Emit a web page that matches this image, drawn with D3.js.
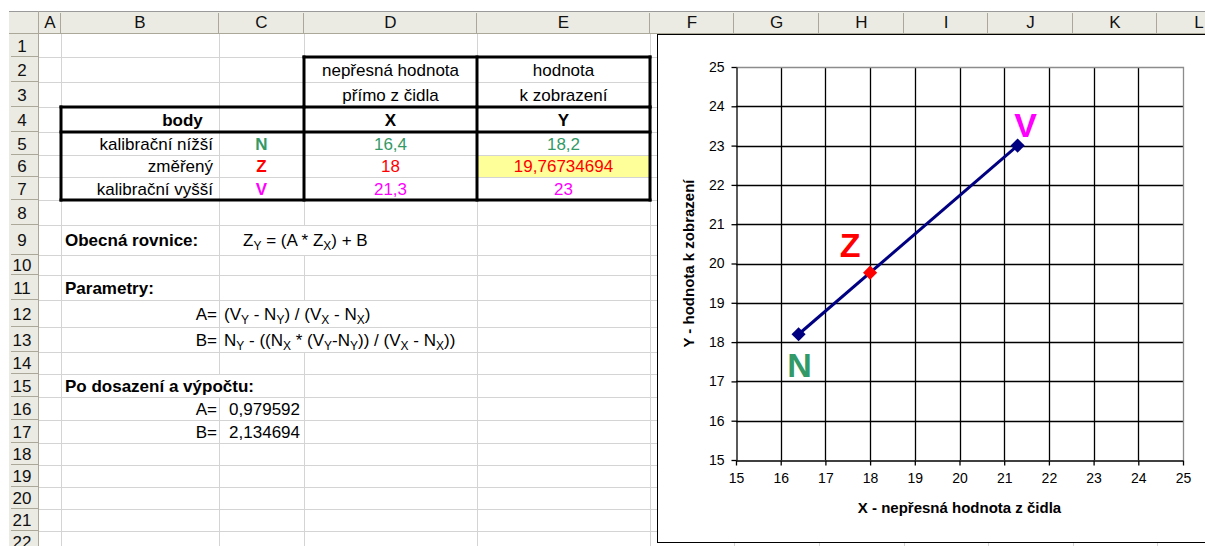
<!DOCTYPE html>
<html>
<head>
<meta charset="utf-8">
<script src="https://cdn.jsdelivr.net/npm/d3@7"></script>
<style>
html,body{margin:0;padding:0;background:#fff;}
svg{display:block;font-family:Arial,"Liberation Sans",sans-serif;}
</style>
</head>
<body>
<svg id="c" width="1205" height="546"></svg>
<script>
// ---------- DATA ----------
const pointNames = ["N", "Z", "V"];
const pointRowLabels = ["kalibrační nížší", "změřený", "kalibrační vyšší"];
const xValues = [16.4, 18, 21.3];
const yValues = [18.2, 19.76734694, 23];
const calibrationNames = ["N", "V"];
const measuredNames = ["Z"];
const paramA = 0.979592;
const paramB = 2.134694;
const xTicks = [15, 16, 17, 18, 19, 20, 21, 22, 23, 24, 25];
const yTicks = [15, 16, 17, 18, 19, 20, 21, 22, 23, 24, 25];
const colNames = ["", "A", "B", "C", "D", "E", "F", "G", "H", "I", "J", "K", "L"];
const rowCount = 22;

// ---------- LAYOUT / STYLE ----------
const colEdges = [9, 39, 61, 219, 304, 477, 650, 734, 819, 904, 988, 1073, 1157, 1241];
const rowEdges = [11, 34, 57, 82, 107, 132, 155, 177, 200, 225, 255, 275, 300, 327, 352, 374, 397, 420, 443, 465, 487, 509, 531, 553];
const colors = {N: "#339966", Z: "#ff0000", V: "#ff00ff"};
const FS = 17;
const svg = d3.select("#c");

const gGrid = svg.append("g");
const gText = svg.append("g");
const gBorder = svg.append("g");
const gHead = svg.append("g");

// cell fills
gGrid.append("rect").attr("x", colEdges[5]).attr("y", rowEdges[6])
  .attr("width", colEdges[6] - colEdges[5]).attr("height", rowEdges[7] - rowEdges[6])
  .attr("fill", "#ffff99");

// gridline suppression where text overflows: [colEdgeIndex, row]
const noVLine = [[4, 9], [4, 12], [4, 13], [3, 15]];
const gridColor = "#d4d4d4";
for (let ci = 2; ci < colEdges.length; ci++) {
  for (let r = 1; r <= rowCount; r++) {
    if (noVLine.some(d => d[0] === ci && d[1] === r)) continue;
    gGrid.append("line").attr("x1", colEdges[ci] + 0.5).attr("x2", colEdges[ci] + 0.5)
      .attr("y1", rowEdges[r]).attr("y2", rowEdges[r + 1])
      .attr("stroke", gridColor).attr("stroke-width", 1);
  }
}
for (let r = 2; r <= rowCount; r++) {
  gGrid.append("line").attr("x1", colEdges[1]).attr("x2", 1205)
    .attr("y1", rowEdges[r] + 0.5).attr("y2", rowEdges[r] + 0.5)
    .attr("stroke", gridColor).attr("stroke-width", 1);
}

// headers
const headFill = "#ecebe3", headLine = "#aca899";
gHead.append("rect").attr("x", colEdges[0]).attr("y", rowEdges[0]).attr("width", 1205 - colEdges[0])
  .attr("height", rowEdges[1] - rowEdges[0]).attr("fill", headFill);
gHead.append("rect").attr("x", colEdges[0]).attr("y", rowEdges[0]).attr("width", colEdges[1] - colEdges[0])
  .attr("height", 546 - rowEdges[0]).attr("fill", headFill);
gHead.append("line").attr("x1", colEdges[0]).attr("x2", 1205).attr("y1", rowEdges[0] + 0.5).attr("y2", rowEdges[0] + 0.5)
  .attr("stroke", "#9a9a9a");
gHead.append("line").attr("x1", colEdges[0]).attr("x2", 1205).attr("y1", rowEdges[1] - 0.5).attr("y2", rowEdges[1] - 0.5)
  .attr("stroke", headLine);
gHead.append("line").attr("x1", colEdges[1] - 0.5).attr("x2", colEdges[1] - 0.5).attr("y1", rowEdges[0]).attr("y2", 546)
  .attr("stroke", headLine);
for (let ci = 2; ci < colEdges.length; ci++) {
  gHead.append("line").attr("x1", colEdges[ci] - 0.5).attr("x2", colEdges[ci] - 0.5)
    .attr("y1", rowEdges[0] + 2).attr("y2", rowEdges[1] - 1).attr("stroke", headLine);
}
for (let r = 2; r <= rowCount; r++) {
  gHead.append("line").attr("x1", colEdges[0] + 2).attr("x2", colEdges[1] - 1)
    .attr("y1", rowEdges[r] - 0.5).attr("y2", rowEdges[r] - 0.5).attr("stroke", headLine);
}
colNames.forEach((n, i) => {
  if (!n) return;
  gHead.append("text").attr("x", (colEdges[i] + colEdges[i + 1]) / 2).attr("y", rowEdges[1] - 6)
    .attr("text-anchor", "middle").attr("font-size", FS).attr("fill", "#111").text(n);
});
d3.range(1, rowCount + 1).forEach(r => {
  gHead.append("text").attr("x", 22).attr("y", (rowEdges[r] + rowEdges[r + 1]) / 2 + 6)
    .attr("text-anchor", "middle").attr("font-size", FS).attr("fill", "#111").text(r);
});

// cell text helper
function cell(col, row, parts, opt = {}) {
  const align = opt.align || "left";
  let x;
  if (align === "left") x = colEdges[col] + (opt.pad != null ? opt.pad : 4);
  else if (align === "right") x = colEdges[(opt.colEnd || col) + 1] - (opt.pad != null ? opt.pad : 4);
  else x = (colEdges[col] + colEdges[(opt.colEnd || col) + 1]) / 2;
  const y = (rowEdges[row] + rowEdges[row + 1]) / 2 + 6;
  const t = gText.append("text").attr("x", x).attr("y", y)
    .attr("text-anchor", align === "left" ? "start" : align === "right" ? "end" : "middle")
    .attr("font-size", FS).attr("font-weight", opt.bold ? "bold" : "normal")
    .attr("fill", opt.color || "#000");
  if (typeof parts === "string") { t.text(parts); return t; }
  parts.forEach(p => {
    if (typeof p === "string") t.append("tspan").text(p);
    else t.append("tspan").attr("font-size", 12).attr("dy", 4).text(p.sub)
      .clone ? null : null;
  });
  // fix dy resets after subscripts
  let prevSub = false;
  t.selectAll("tspan").each(function (d, i) {
    const isSub = +d3.select(this).attr("font-size") === 12;
    if (!isSub && prevSub) d3.select(this).attr("dy", -4);
    prevSub = isSub;
  });
  return t;
}
const fmt = v => String(v).replace(".", ",");

// table
cell(4, 2, "nepřesná hodnota", {align: "center"});
cell(5, 2, "hodnota", {align: "center"});
cell(4, 3, "přímo z čidla", {align: "center"});
cell(5, 3, "k zobrazení", {align: "center"});
cell(2, 4, "body", {align: "center", colEnd: 3, bold: true});
cell(4, 4, "X", {align: "center", bold: true});
cell(5, 4, "Y", {align: "center", bold: true});
pointNames.forEach((n, i) => {
  const row = 5 + i;
  cell(2, row, pointRowLabels[i], {align: "right", pad: 6});
  cell(3, row, n, {align: "center", bold: true, color: colors[n]});
  cell(4, row, fmt(xValues[i]), {align: "center", color: colors[n]});
  cell(5, row, fmt(yValues[i]), {align: "center", color: colors[n]});
});
cell(2, 9, "Obecná rovnice:", {bold: true});
gText.append("g");
cell(3, 9, ["Z", {sub: "Y"}, " = (A * Z", {sub: "X"}, ") + B"], {pad: 24});
cell(2, 11, "Parametry:", {bold: true});
cell(2, 12, "A=", {align: "right", pad: 2});
cell(3, 12, ["(V", {sub: "Y"}, " - N", {sub: "Y"}, ") / (V", {sub: "X"}, " - N", {sub: "X"}, ")"], {pad: 5});
cell(2, 13, "B=", {align: "right", pad: 2});
cell(3, 13, ["N", {sub: "Y"}, " - ((N", {sub: "X"}, " * (V", {sub: "Y"}, "-N", {sub: "Y"}, ")) / (V", {sub: "X"}, " - N", {sub: "X"}, "))"], {pad: 5});
cell(2, 15, "Po dosazení a výpočtu:", {bold: true});
cell(2, 16, "A=", {align: "right", pad: 2});
cell(3, 16, fmt(paramA), {align: "right", pad: 4});
cell(2, 17, "B=", {align: "right", pad: 2});
cell(3, 17, fmt(paramB), {align: "right", pad: 4});

// thick borders
function thick(x1, y1, x2, y2) {
  gBorder.append("line").attr("x1", x1).attr("y1", y1).attr("x2", x2).attr("y2", y2)
    .attr("stroke", "#000").attr("stroke-width", 3).attr("stroke-linecap", "square");
}
const X = colEdges, Y = rowEdges;
// D2:E3
thick(X[4], Y[2], X[6], Y[2]);
thick(X[4], Y[2], X[4], Y[4]);
thick(X[5], Y[2], X[5], Y[4]);
thick(X[6], Y[2], X[6], Y[4]);
// B4:E7
thick(X[2], Y[4], X[6], Y[4]);
thick(X[2], Y[5], X[6], Y[5]);
thick(X[2], Y[8], X[6], Y[8]);
thick(X[2], Y[4], X[2], Y[8]);
thick(X[4], Y[4], X[4], Y[8]);
thick(X[5], Y[4], X[5], Y[8]);
thick(X[6], Y[4], X[6], Y[8]);

// ---------- CHART ----------
const gc = svg.append("g");
gc.append("rect").attr("x", 657.5).attr("y", 34.5).attr("width", 700).attr("height", 508)
  .attr("fill", "#fff").attr("stroke", "#000").attr("stroke-width", 1);

const plot = {l: 736, r: 1183, t: 67, b: 460};
const x = d3.scaleLinear().domain([xTicks[0], xTicks[xTicks.length - 1]]).range([plot.l, plot.r]);
const y = d3.scaleLinear().domain([yTicks[0], yTicks[yTicks.length - 1]]).range([plot.b, plot.t]);

// gridlines
gc.append("g").selectAll("line").data(xTicks.slice(1, -1)).join("line")
  .attr("x1", d => Math.round(x(d)) + 0.5).attr("x2", d => Math.round(x(d)) + 0.5)
  .attr("y1", plot.t).attr("y2", plot.b).attr("stroke", "#000").attr("stroke-width", 1.3);
gc.append("g").selectAll("line").data(yTicks.slice(1, -1)).join("line")
  .attr("y1", d => Math.round(y(d)) + 0.5).attr("y2", d => Math.round(y(d)) + 0.5)
  .attr("x1", plot.l).attr("x2", plot.r).attr("stroke", "#000").attr("stroke-width", 1.3);
// plot border top/right
gc.append("path").attr("d", `M${plot.l},${plot.t + 0.5}H${plot.r + 0.5}V${plot.b}`)
  .attr("fill", "none").attr("stroke", "#8c8c8c").attr("stroke-width", 1.3);

// axes
const xAxis = gc.append("g").attr("transform", `translate(0,${plot.b + 0.5})`)
  .call(d3.axisBottom(x).tickValues(xTicks).tickSize(5).tickSizeOuter(0).tickPadding(8));
const yAxis = gc.append("g").attr("transform", `translate(${plot.l + 0.5},0)`)
  .call(d3.axisLeft(y).tickValues(yTicks).tickSize(5).tickSizeOuter(0).tickPadding(7));
[xAxis, yAxis].forEach(a => {
  a.selectAll("path,line").attr("stroke", "#000").attr("stroke-width", 1.3);
  a.selectAll("text").attr("font-size", 14).attr("fill", "#000")
    .attr("font-family", 'Arial,"Liberation Sans",sans-serif');
});

gc.append("text").attr("x", (plot.l + plot.r) / 2).attr("y", 513).attr("text-anchor", "middle")
  .attr("font-size", 15).attr("font-weight", "bold").text("X - nepřesná hodnota z čidla");
gc.append("text").attr("transform", `translate(694,${(plot.t + plot.b) / 2}) rotate(-90)`)
  .attr("text-anchor", "middle").attr("font-size", 15).attr("font-weight", "bold")
  .text("Y - hodnota k zobrazení");

// series
const pts = pointNames.map((n, i) => ({name: n, x: xValues[i], y: yValues[i]}));
const calib = pts.filter(p => calibrationNames.includes(p.name));
const meas = pts.filter(p => measuredNames.includes(p.name));
gc.append("path").datum(calib)
  .attr("d", d3.line().x(d => x(d.x)).y(d => y(d.y)))
  .attr("fill", "none").attr("stroke", "#000080").attr("stroke-width", 3);
const diamond = d3.symbol(d3.symbolSquare, 100);
gc.selectAll(".mk").data(calib.concat(meas)).join("path")
  .attr("d", diamond)
  .attr("transform", d => `translate(${x(d.x)},${y(d.y)}) rotate(45)`)
  .attr("fill", d => measuredNames.includes(d.name) ? "#ff0000" : "#000080");

// point labels
const labelOffset = {N: [1, 43], Z: [-20, -16], V: [8, -9]};
gc.selectAll(".lbl").data(pts).join("text")
  .attr("x", d => x(d.x) + labelOffset[d.name][0])
  .attr("y", d => y(d.y) + labelOffset[d.name][1])
  .attr("text-anchor", "middle").attr("font-size", 34).attr("font-weight", "bold")
  .attr("fill", d => colors[d.name]).text(d => d.name);
</script>
</body>
</html>
